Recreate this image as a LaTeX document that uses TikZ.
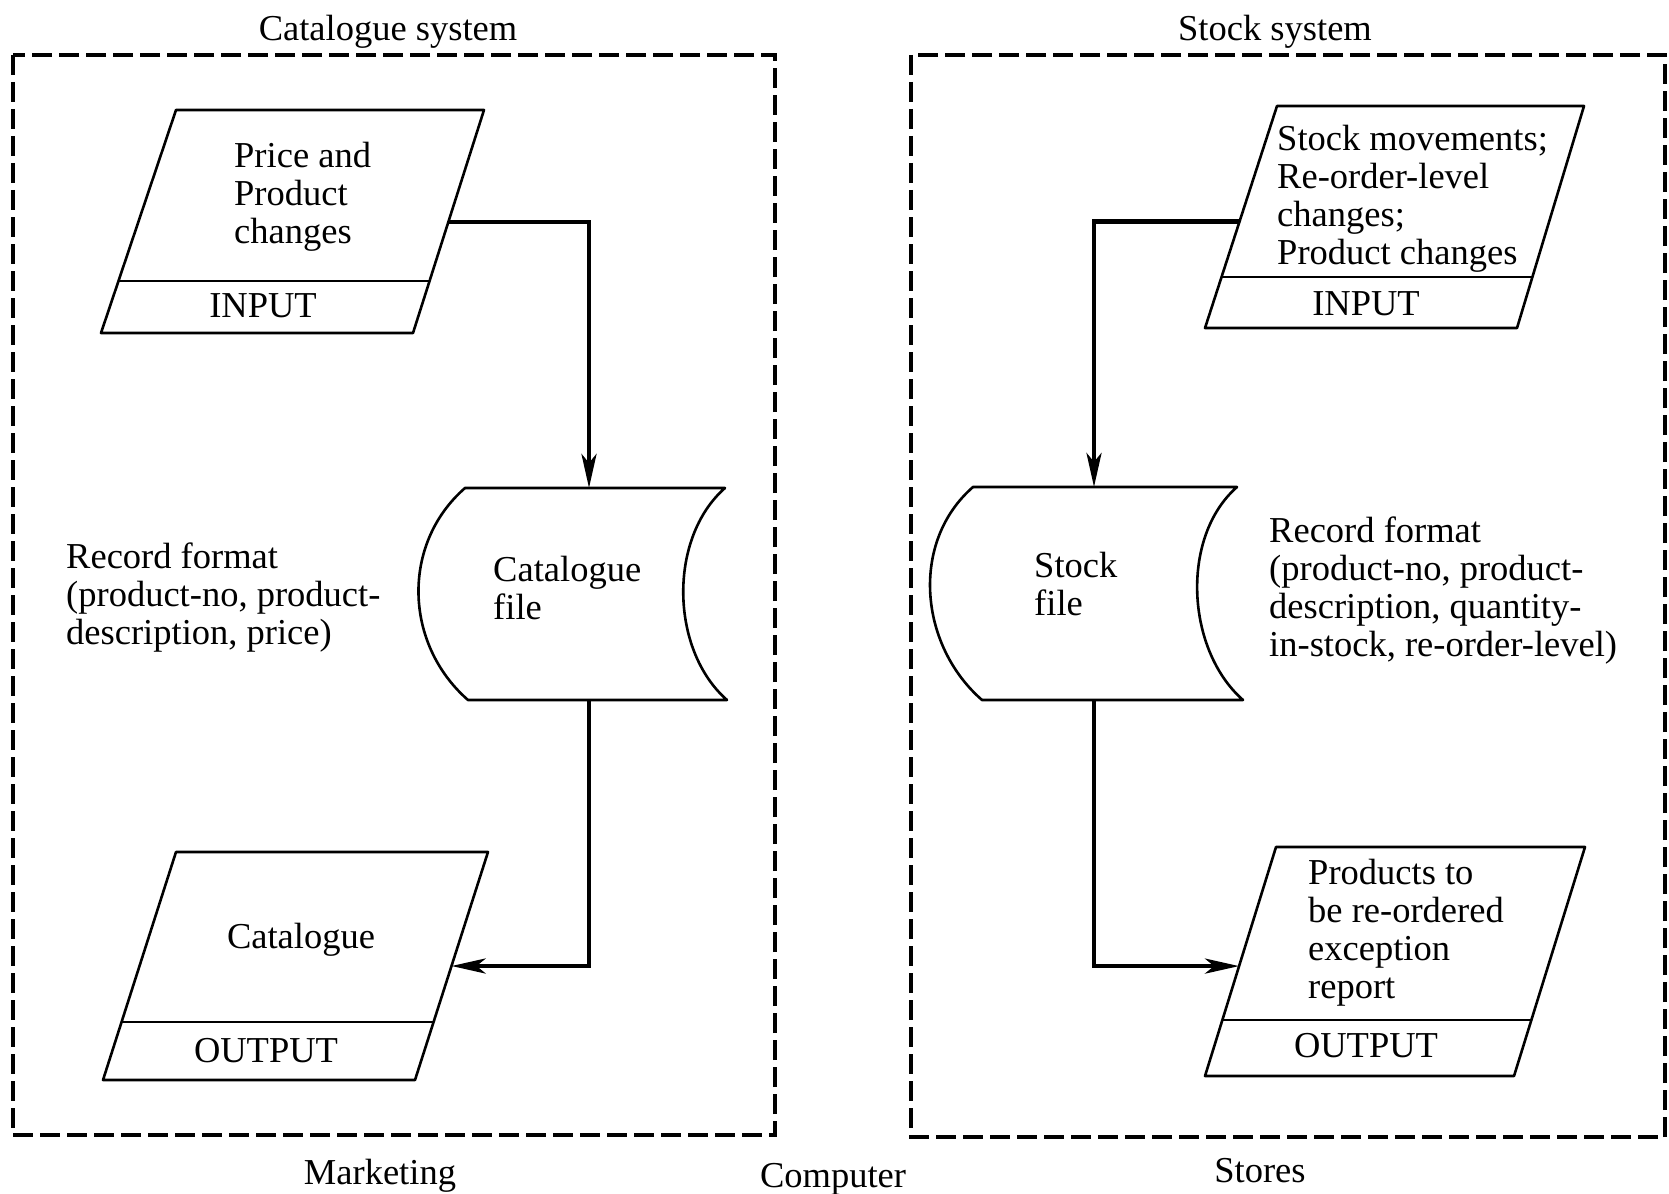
\documentclass[tikz,border=0pt]{standalone}
\usepackage{fontspec}
\setmainfont{Liberation Serif}
\usetikzlibrary{arrows.meta,calc}
\begin{document}
\begin{tikzpicture}[x=1pt,y=-1pt,
  txt/.style={inner sep=0pt, align=left, font=\fontsize{36.5}{38}\selectfont},
  lbl/.style={inner sep=0pt, font=\fontsize{36.5}{38}\selectfont},
  boundary/.style={line width=3.2pt, dash pattern=on 20pt off 7pt},
  shapeline/.style={line width=2.6pt, line join=round},
  flow/.style={line width=4.5pt, -{Stealth[length=34pt,width=15pt,inset=9pt]}},
]
\useasboundingbox (0,0) rectangle (1669,1193);

% system boundaries
\draw[boundary] (13,55) rectangle (775,1135);
\draw[boundary] (911,55) rectangle (1665,1137);

\node[lbl, anchor=base] (tcat) at (388,41) {Catalogue system};
\node[lbl, anchor=base] (tstock) at (1275,41) {Stock system};
\node[lbl, anchor=base] (tmkt) at (380,1184) {Marketing};
\node[lbl, anchor=base] (tcomp) at (833,1187) {Computer};
\node[lbl, anchor=base] (tstores) at (1260,1182) {Stores};

% ---- left input
\coordinate (liTL) at (176,110); \coordinate (liTR) at (484,110);
\coordinate (liBR) at (413,333); \coordinate (liBL) at (101,333);
\draw[shapeline] (liTL) -- (liTR) -- (liBR) -- (liBL) -- cycle;
\draw[shapeline] ($(liTL)!0.767!(liBL)$) -- ($(liTR)!0.767!(liBR)$);
\node[txt, anchor=north west] (litext) at (234,142) {Price and\\Product\\changes};
\node[lbl, anchor=base] (liin) at (263,317) {INPUT};
\coordinate (liout) at ($(liTR)!0.502!(liBR)$);

% ---- catalogue file
\coordinate (cfTL) at (465,488); \coordinate (cfTR) at (725,488);
\coordinate (cfBR) at (727,700); \coordinate (cfBL) at (468,700);
\draw[shapeline] (cfTL) -- (cfTR) .. controls (668,538) and (670,650) .. (cfBR)
  -- (cfBL) .. controls (404,644) and (401,544) .. (cfTL) -- cycle;
\node[txt, anchor=north west] (cftext) at (493,556) {Catalogue\\file};
\coordinate (cftop) at (589,488);
\coordinate (cfbot) at (589,700);

\node[txt, anchor=north west] (lrec) at (66,543) {Record format\\(product-no, product-\\description, price)};

% ---- left output
\coordinate (loTL) at (176,852); \coordinate (loTR) at (488,852);
\coordinate (loBR) at (415,1080); \coordinate (loBL) at (103,1080);
\draw[shapeline] (loTL) -- (loTR) -- (loBR) -- (loBL) -- cycle;
\draw[shapeline] ($(loTL)!0.746!(loBL)$) -- ($(loTR)!0.746!(loBR)$);
\node[lbl, anchor=base] (lotext) at (301,948) {Catalogue};
\node[lbl, anchor=base] (loout) at (266,1062) {OUTPUT};
\coordinate (loin) at ($(loTR)!0.5!(loBR)$);

% ---- right input
\coordinate (riTL) at (1277,106); \coordinate (riTR) at (1584,106);
\coordinate (riBR) at (1517,328); \coordinate (riBL) at (1205,328);
\draw[shapeline] (riTL) -- (riTR) -- (riBR) -- (riBL) -- cycle;
\draw[shapeline] ($(riTL)!0.77!(riBL)$) -- ($(riTR)!0.77!(riBR)$);
\node[txt, anchor=north west] (ritext) at (1277,125) {Stock movements;\\Re-order-level\\changes;\\Product changes};
\node[lbl, anchor=base] (riin) at (1366,315) {INPUT};
\coordinate (riout) at ($(riTL)!0.52!(riBL)$);

% ---- stock file
\coordinate (sfTL) at (973,487); \coordinate (sfTR) at (1237,487);
\coordinate (sfBR) at (1243,700); \coordinate (sfBL) at (982,700);
\draw[shapeline] (sfTL) -- (sfTR) .. controls (1180,537) and (1186,650) .. (sfBR)
  -- (sfBL) .. controls (919,645) and (910,542) .. (sfTL) -- cycle;
\node[txt, anchor=north west] (sftext) at (1034,552) {Stock\\file};
\coordinate (sftop) at (1094,487);
\coordinate (sfbot) at (1094,700);

\node[txt, anchor=north west] (rrec) at (1269,517) {Record format\\(product-no, product-\\description, quantity-\\in-stock, re-order-level)};

% ---- right output
\coordinate (roTL) at (1276,847); \coordinate (roTR) at (1585,847);
\coordinate (roBR) at (1514,1076); \coordinate (roBL) at (1205,1076);
\draw[shapeline] (roTL) -- (roTR) -- (roBR) -- (roBL) -- cycle;
\draw[shapeline] ($(roTL)!0.755!(roBL)$) -- ($(roTR)!0.755!(roBR)$);
\node[txt, anchor=north west] (rotext) at (1308,859) {Products to\\be re-ordered\\exception\\report};
\node[lbl, anchor=base] (roout) at (1366,1057) {OUTPUT};
\coordinate (roin) at ($(roTL)!0.52!(roBL)$);

% ---- connectors
\draw[flow] (liout) -| (cftop);
\draw[flow] (cfbot) |- (loin);
\draw[flow] (riout) -| (sftop);
\draw[flow] (sfbot) |- (roin);
\end{tikzpicture}
\end{document}
